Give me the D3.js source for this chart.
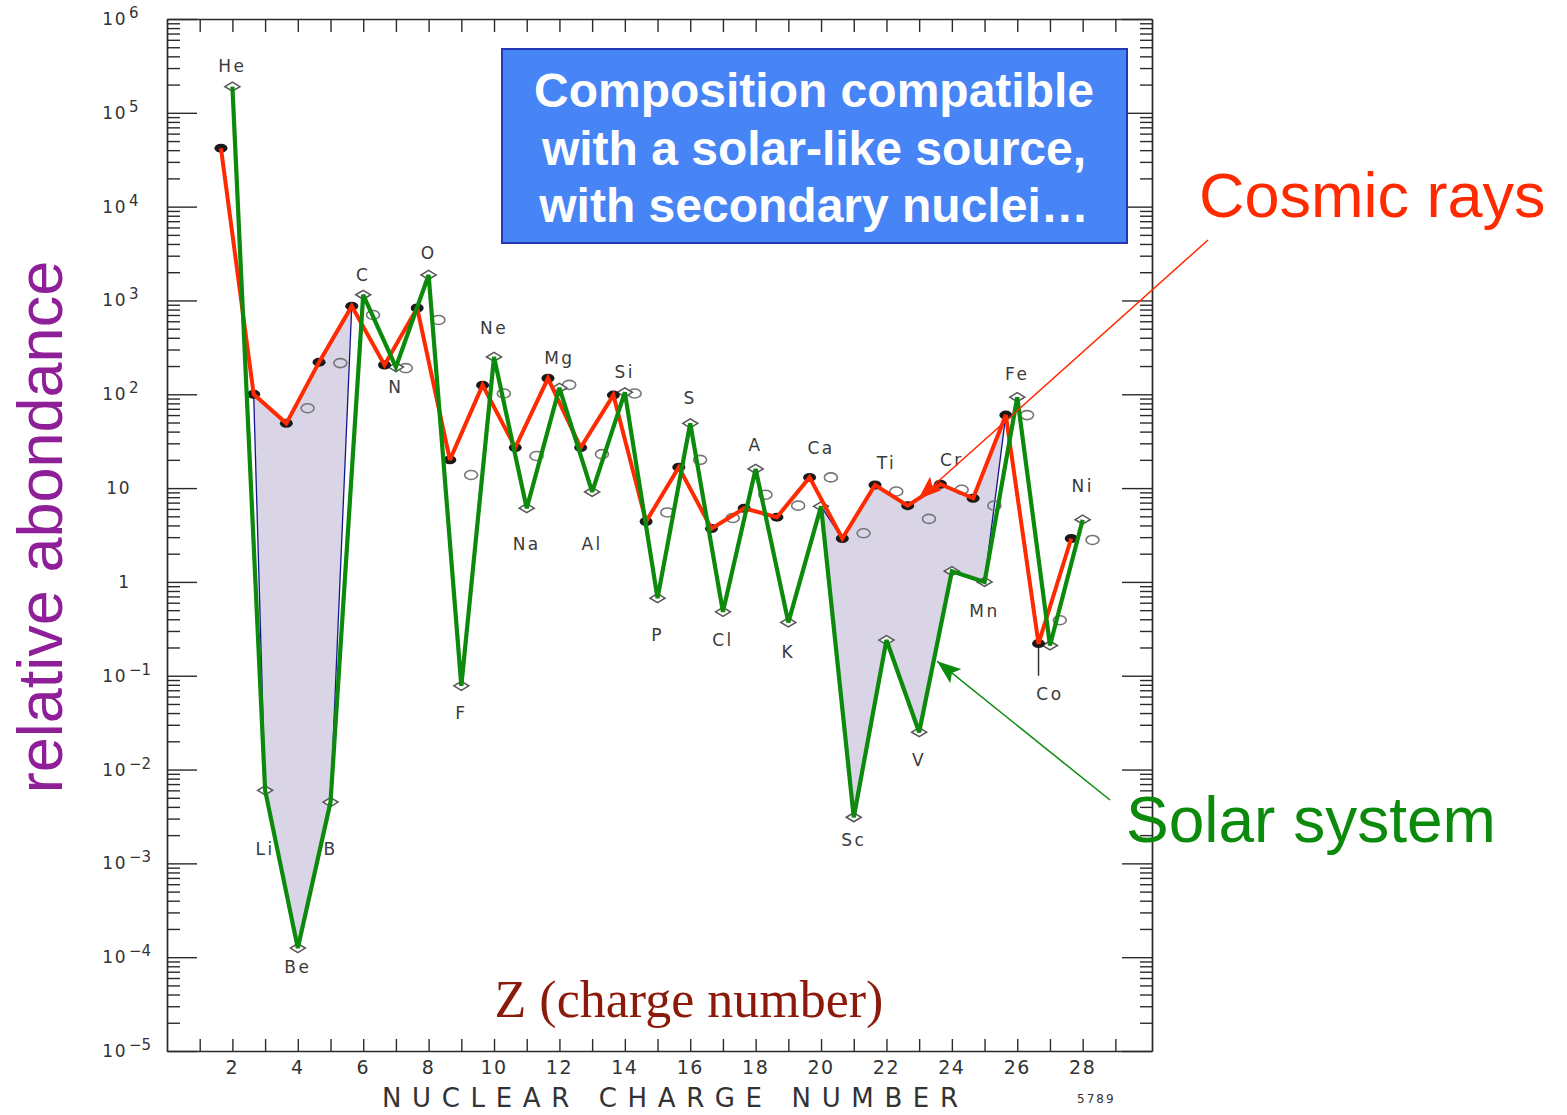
<!DOCTYPE html>
<html>
<head>
<meta charset="utf-8">
<script src="https://cdn.jsdelivr.net/npm/d3@7"></script>
<style>
  html, body { margin: 0; padding: 0; background: #ffffff; }
  svg { display: block; }
</style>
</head>
<body>
<svg id="chart" width="1567" height="1115"></svg>
<script>
// ---- data -------------------------------------------------------------
const symbols = ["He","Li","Be","B","C","N","O","F","Ne","Na","Mg","Al","Si","P","S",
                 "Cl","A","K","Ca","Sc","Ti","V","Cr","Mn","Fe","Co","Ni"];
const charges = d3.range(2, 29);

// galactic cosmic rays (filled dots, red line)
const cosmicRays = [4.2e4, 100, 49, 220, 870, 205, 830, 20, 125, 27, 148, 27, 98, 4.4, 16.7,
                    3.7, 6.1, 4.9, 13, 2.9, 10.8, 6.5, 11, 7.8, 60, 0.22, 2.9];
// lower end of the cosmic-ray error bars (null = no bar drawn)
const cosmicRaysLow = [null, null, null, null, null, null, null, null, null, null, null, null, null, null, null,
                       null, null, null, null, null, null, null, null, null, null, 0.1, null];
// second cosmic-ray data set (open circles)
const cosmicRaysAlt = [null, null, 71, 215, 700, 190, 620, 13.8, 102, 22, 126, 23, 102, 5.5, 20,
                       4.8, 8.5, 6.5, 13, 3.3, 9.2, 4.7, 9.6, 6.5, 60, 0.39, 2.8];
// solar system abundances (open diamonds, green line)
const solarSystem = [1.9e5, 0.006, 1.25e-4, 0.0045, 1150, 195, 1870, 0.078, 250, 6.1, 117, 9.1, 105, 0.67, 49,
                     0.48, 16, 0.37, 6.4, 0.0031, 0.24, 0.025, 1.3, 1.0, 93, 0.21, 4.6];

// element name placement, as log10 abundance of the label baseline
const labelExp = [5.435, -2.913, -4.17, -2.913, 3.207, 2.013, 3.441, -1.463, 2.642, 0.339, 2.322, 0.339, 2.173,
                  -0.631, 1.896, -0.684, 1.394, -0.812, 1.362, -2.817, 1.203, -1.964, 1.235, -0.375, 2.151, -1.26, 0.957];

// axis ticks
const xTickLabels = [2, 4, 6, 8, 10, 12, 14, 16, 18, 20, 22, 24, 26, 28];
const yDecades = d3.range(-5, 7);

// ---- scales -----------------------------------------------------------
const x = d3.scaleLinear().domain([0, 30.12]).range([167, 1152]);
const y = d3.scaleLog().domain([1e-5, 1e6]).range([1051, 19]);

// the cosmic-ray points sit a little to the left of their charge, the alternate set to the right
const crShift = -0.35, altShift = 0.3;

const svg = d3.select("#chart");
const ink = "#2a2a2a";
const scanFont = "'DejaVu Sans', sans-serif";

// ---- frame and ticks --------------------------------------------------
const zTicks = d3.range(1, 30);
const majors = yDecades.map(e => Math.pow(10, e));
const minors = [];
yDecades.slice(0, -1).forEach(e => { for (let m = 2; m <= 9; m++) minors.push(m * Math.pow(10, e)); });

function styleAxis(g) {
  g.selectAll("path, line").attr("stroke", ink).attr("stroke-width", 1.4);
  g.selectAll("text").remove();
}

svg.append("g").attr("transform", "translate(0,1051)")
  .call(d3.axisBottom(x).tickValues(zTicks).tickSize(-12).tickSizeOuter(0).tickFormat(""))
  .call(styleAxis);
svg.append("g").attr("transform", "translate(0,19)")
  .call(d3.axisTop(x).tickValues(zTicks).tickSize(-13).tickSizeOuter(0).tickFormat(""))
  .call(styleAxis);
svg.append("g").attr("transform", "translate(167,0)")
  .call(d3.axisLeft(y).tickValues(majors).tickSize(-30).tickSizeOuter(0).tickFormat(""))
  .call(styleAxis);
svg.append("g").attr("transform", "translate(167,0)")
  .call(d3.axisLeft(y).tickValues(minors).tickSize(-13).tickSizeOuter(0).tickFormat(""))
  .call(styleAxis);
svg.append("g").attr("transform", "translate(1152,0)")
  .call(d3.axisRight(y).tickValues(majors).tickSize(-30).tickSizeOuter(0).tickFormat(""))
  .call(styleAxis);
svg.append("g").attr("transform", "translate(1152,0)")
  .call(d3.axisRight(y).tickValues(minors).tickSize(-12).tickSizeOuter(0).tickFormat(""))
  .call(styleAxis);

// x tick labels
svg.append("g").selectAll("text").data(xTickLabels).join("text")
  .attr("x", d => x(d)).attr("y", 1074)
  .attr("text-anchor", "middle")
  .attr("font-family", scanFont).attr("font-size", 19).attr("letter-spacing", 1.5)
  .attr("fill", "#333").text(d => d);

// y tick labels: 10 with a raised exponent
const yLab = svg.append("g").attr("font-family", scanFont).attr("font-size", 17).attr("fill", "#333");
yDecades.forEach(e => {
  const yy = y(Math.pow(10, e));
  if (e === 0) {
    yLab.append("text").attr("x", 129).attr("y", yy + 6).attr("text-anchor", "end").text("1");
  } else if (e === 1) {
    yLab.append("text").attr("x", 131).attr("y", yy + 6).attr("text-anchor", "end")
      .attr("letter-spacing", 1.5).text("10");
  } else {
    yLab.append("text").attr("x", 127).attr("y", yy + 6).attr("text-anchor", "end")
      .attr("letter-spacing", 1.5).text("10");
    yLab.append("text").attr("x", 129).attr("y", yy - 1).attr("font-size", 15)
      .text(e < 0 ? "\u2212" + (-e) : String(e));
  }
});

// axis title of the plotted figure
svg.append("text").attr("x", 382).attr("y", 1107)
  .attr("font-family", scanFont).attr("font-size", 26).attr("fill", "#333")
  .attr("textLength", 576).attr("lengthAdjust", "spacing")
  .text("NUCLEAR CHARGE NUMBER");
svg.append("text").attr("x", 1077).attr("y", 1103)
  .attr("font-family", scanFont).attr("font-size", 12).attr("fill", "#333")
  .attr("letter-spacing", 2).text("5789");

// ---- shaded gaps between the two compositions ---------------------------
const crPt = i => [x(charges[i] + crShift), y(cosmicRays[i])];
const ssPt = i => [x(charges[i]), y(solarSystem[i])];
const polyLine = d3.line();

const gapLight = [1, 2, 3, 4].map(crPt).concat([3, 2, 1].map(ssPt));
const gapIronPeak = [ssPt(18)].concat([19, 20, 21, 22, 23, 24].map(crPt), [23, 22, 21, 20, 19].map(ssPt));

svg.append("g").selectAll("path").data([gapLight, gapIronPeak]).join("path")
  .attr("d", d => polyLine(d) + "Z")
  .attr("fill", "#d9d4e6")
  .attr("stroke", "#15168f").attr("stroke-width", 1.3).attr("stroke-linejoin", "round");

// ---- original plot lines and symbols ----------------------------------
const crLine = d3.line().x((d, i) => x(charges[i] + crShift)).y(d => y(d));
const ssLine = d3.line().x((d, i) => x(charges[i])).y(d => y(d));

svg.append("path").attr("d", crLine(cosmicRays))
  .attr("fill", "none").attr("stroke", "#333").attr("stroke-width", 1.2);
svg.append("path").attr("d", ssLine(solarSystem))
  .attr("fill", "none").attr("stroke", "#555").attr("stroke-width", 1.2).attr("stroke-dasharray", "5,3");

// error bars
svg.append("g").selectAll("line").data(cosmicRaysLow.map((v, i) => ({ v, i })).filter(d => d.v !== null)).join("line")
  .attr("x1", d => x(charges[d.i] + crShift)).attr("x2", d => x(charges[d.i] + crShift))
  .attr("y1", d => y(cosmicRays[d.i])).attr("y2", d => y(d.v))
  .attr("stroke", "#333").attr("stroke-width", 1.5);

// open circles
svg.append("g").selectAll("ellipse")
  .data(cosmicRaysAlt.map((v, i) => ({ v, i })).filter(d => d.v !== null)).join("ellipse")
  .attr("cx", d => x(charges[d.i] + altShift)).attr("cy", d => y(d.v))
  .attr("rx", 6.5).attr("ry", 4.5)
  .attr("fill", "none").attr("stroke", "#777").attr("stroke-width", 1.6);

// open diamonds (solar system)
function diamond(cx, cy, w, h) {
  const p = d3.path();
  p.moveTo(cx - w, cy); p.lineTo(cx, cy - h); p.lineTo(cx + w, cy); p.lineTo(cx, cy + h); p.closePath();
  return p.toString();
}
svg.append("g").selectAll("path").data(solarSystem).join("path")
  .attr("d", (d, i) => diamond(x(charges[i]), y(d), 7.5, 4.5))
  .attr("fill", "#fff").attr("stroke", "#555").attr("stroke-width", 1.5);

// filled dots (cosmic rays)
svg.append("g").selectAll("ellipse").data(cosmicRays).join("ellipse")
  .attr("cx", (d, i) => x(charges[i] + crShift)).attr("cy", d => y(d))
  .attr("rx", 6.5).attr("ry", 4.5).attr("fill", "#1a1a1a");

// element names
svg.append("g").selectAll("text").data(symbols).join("text")
  .attr("x", (d, i) => x(charges[i])).attr("y", (d, i) => y(Math.pow(10, labelExp[i])))
  .attr("text-anchor", "middle")
  .attr("font-family", scanFont).attr("font-size", 17).attr("letter-spacing", 2.5)
  .attr("fill", "#3a3a3a").text(d => d);

// ---- highlighted series ------------------------------------------------
svg.append("path").attr("d", crLine(cosmicRays))
  .attr("fill", "none").attr("stroke", "#ff2a00").attr("stroke-width", 4)
  .attr("stroke-linejoin", "miter").attr("stroke-miterlimit", 3);
svg.append("path").attr("d", ssLine(solarSystem))
  .attr("fill", "none").attr("stroke", "#0b8a0b").attr("stroke-width", 4.2)
  .attr("stroke-linejoin", "miter").attr("stroke-miterlimit", 3);

// ---- annotations -------------------------------------------------------
const defs = svg.append("defs");
[["headRed", "#ff2a00"], ["headGreen", "#0b8a0b"]].forEach(([id, col]) => {
  defs.append("marker").attr("id", id)
    .attr("markerUnits", "userSpaceOnUse")
    .attr("viewBox", "0 0 24 18").attr("refX", 24).attr("refY", 9)
    .attr("markerWidth", 24).attr("markerHeight", 18).attr("orient", "auto")
    .append("path").attr("d", "M0,0 L24,9 L0,18 L5,9 Z").attr("fill", col);
});

svg.append("line")
  .attr("x1", 1208).attr("y1", 240)
  .attr("x2", x(22.97)).attr("y2", y(7.6))
  .attr("stroke", "#ff2a00").attr("stroke-width", 1.5).attr("marker-end", "url(#headRed)");
svg.append("line")
  .attr("x1", 1110).attr("y1", 800)
  .attr("x2", x(23.55)).attr("y2", y(0.143))
  .attr("stroke", "#0b8a0b").attr("stroke-width", 1.5).attr("marker-end", "url(#headGreen)");

svg.append("text").attr("x", 1199).attr("y", 217)
  .attr("font-family", "'Liberation Sans', Arial, sans-serif").attr("font-size", 63)
  .attr("fill", "#ff2a00").text("Cosmic rays");
svg.append("text").attr("x", 1126).attr("y", 842)
  .attr("font-family", "'Liberation Sans', Arial, sans-serif").attr("font-size", 64)
  .attr("fill", "#0b8a0b").text("Solar system");

svg.append("text")
  .attr("transform", "translate(62,527) rotate(-90)")
  .attr("text-anchor", "middle")
  .attr("font-family", "'Liberation Sans', Arial, sans-serif").attr("font-size", 63)
  .attr("fill", "#8e1f98").text("relative abondance");

svg.append("text").attr("x", 689).attr("y", 1017).attr("text-anchor", "middle")
  .attr("font-family", "'Liberation Serif', 'Times New Roman', serif").attr("font-size", 52)
  .attr("fill", "#8b1a0a").text("Z (charge number)");

// message box
svg.append("rect").attr("x", 502).attr("y", 49).attr("width", 625).attr("height", 194)
  .attr("fill", "#4784f5").attr("stroke", "#2338b0").attr("stroke-width", 2);
const boxLines = ["Composition compatible", "with a solar-like source,", "with secondary nuclei\u2026"];
svg.append("g").selectAll("text").data(boxLines).join("text")
  .attr("x", 814).attr("y", (d, i) => 107 + i * 57.5)
  .attr("text-anchor", "middle")
  .attr("font-family", "'Liberation Sans', Arial, sans-serif").attr("font-weight", "bold")
  .attr("font-size", 48).attr("fill", "#ffffff").text(d => d);
</script>
</body>
</html>
